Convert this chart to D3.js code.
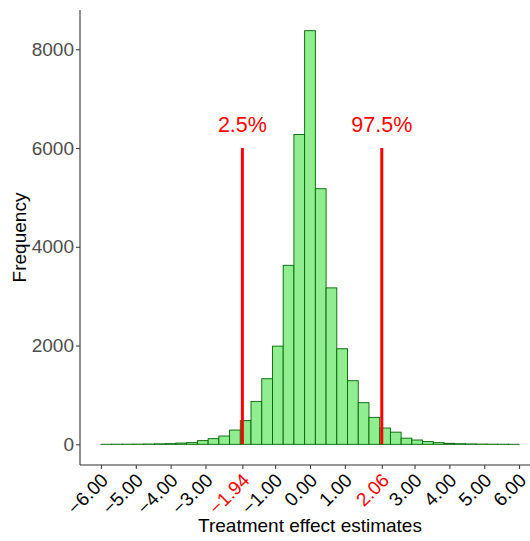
<!DOCTYPE html>
<html>
<head>
<meta charset="utf-8">
<script src="https://cdn.jsdelivr.net/npm/d3@7"></script>
<style>
  html, body { margin: 0; padding: 0; background: #fff; }
  svg { display: block; font-family: "Liberation Sans", Arial, sans-serif; }
</style>
</head>
<body>
<svg id="chart" width="530" height="541"></svg>
<script>
// Histogram of bootstrap treatment effect estimates: 39 equal bins over [-6, 6]
const binStart = -6;
const binEnd = 6;
const binCounts = [1, 2, 3, 4, 6, 10, 14, 26, 34, 75, 115, 168, 289, 479, 869, 1328, 1988, 3625, 6274, 8376,
                   5176, 3168, 1935, 1288, 843, 546, 330, 246, 125, 87, 55, 34, 20, 12, 8, 5, 3, 2, 1];

// Percentile cut-offs of the distribution
const cutoffs = [-1.94, 2.06];
const cutoffLabels = ["2.5%", "97.5%"];
const cutoffHeight = 6000;

// Axis ticks
const xTicks = [-6, -5, -4, -3, -1.94, -1, 0, 1, 2.06, 3, 4, 5, 6];
const yTicks = [0, 2000, 4000, 6000, 8000];

const svg = d3.select("#chart");
const panel = { left: 80, right: 540, top: 10, bottom: 465 };

const binWidth = (binEnd - binStart) / binCounts.length;
const bins = binCounts.map((c, i) => ({ x0: binStart + i * binWidth, x1: binStart + (i + 1) * binWidth, count: c }));

const maxCount = d3.max(binCounts);
const xPad = (binEnd - binStart) * 0.05;
const x = d3.scaleLinear().domain([binStart - xPad, binEnd + xPad]).range([panel.left, panel.right]);
const y = d3.scaleLinear().domain([-maxCount * 0.05, maxCount * 1.05]).range([panel.bottom, panel.top]);

const fmt = v => d3.format(".2f")(v).replace("-", "\u2212");

// Bars
svg.append("g")
  .selectAll("rect")
  .data(bins)
  .join("rect")
  .attr("x", d => x(d.x0))
  .attr("width", d => x(d.x1) - x(d.x0))
  .attr("y", d => y(d.count))
  .attr("height", d => y(0) - y(d.count))
  .attr("fill", "#90EE90")
  .attr("stroke", "#006400")
  .attr("stroke-width", 0.9);

// Percentile lines and labels
const cut = svg.append("g");
cut.selectAll("line")
  .data(cutoffs)
  .join("line")
  .attr("x1", d => x(d)).attr("x2", d => x(d))
  .attr("y1", y(0)).attr("y2", y(cutoffHeight))
  .attr("stroke", "#FF0000")
  .attr("stroke-width", 3);
cut.selectAll("text")
  .data(cutoffs)
  .join("text")
  .attr("x", d => x(d))
  .attr("y", y(cutoffHeight) - 16)
  .attr("text-anchor", "middle")
  .attr("fill", "#FF0000")
  .style("font-size", "21.5px")
  .text((d, i) => cutoffLabels[i]);

// Y axis
const yAxis = svg.append("g")
  .attr("transform", `translate(${panel.left},0)`)
  .call(d3.axisLeft(y).tickValues(yTicks).tickSize(4).tickPadding(2).tickFormat(d3.format("d")));
yAxis.select(".domain").attr("d", `M0,${panel.top}V${panel.bottom}`).attr("stroke", "#333").attr("stroke-width", 1.1);
yAxis.selectAll(".tick line").attr("stroke", "#333");
yAxis.selectAll(".tick text").attr("fill", "#4D4D4D").style("font-size", "19px").attr("font-family", null);

// X axis
const xAxis = svg.append("g")
  .attr("transform", `translate(0,${panel.bottom})`)
  .call(d3.axisBottom(x).tickValues(xTicks).tickSize(4).tickFormat(fmt));
xAxis.select(".domain").attr("d", `M${panel.left},0H${panel.right}`).attr("stroke", "#333").attr("stroke-width", 1.1);
xAxis.selectAll(".tick line").attr("stroke", "#333");
xAxis.selectAll(".tick text")
  .attr("font-family", null)
  .style("font-size", "19px")
  .attr("fill", d => cutoffs.includes(d) ? "#FF0000" : "#000")
  .attr("text-anchor", "end")
  .attr("y", 0).attr("dy", "0.7em")
  .attr("transform", "translate(-1.5,7) rotate(-45)");

// Axis titles
svg.append("text")
  .attr("x", x(0))
  .attr("y", 532)
  .attr("text-anchor", "middle")
  .style("font-size", "19px")
  .attr("fill", "#000")
  .text("Treatment effect estimates");

svg.append("text")
  .attr("transform", `translate(26,${(panel.top + panel.bottom) / 2}) rotate(-90)`)
  .attr("text-anchor", "middle")
  .style("font-size", "19px")
  .attr("fill", "#000")
  .text("Frequency");
</script>
</body>
</html>
